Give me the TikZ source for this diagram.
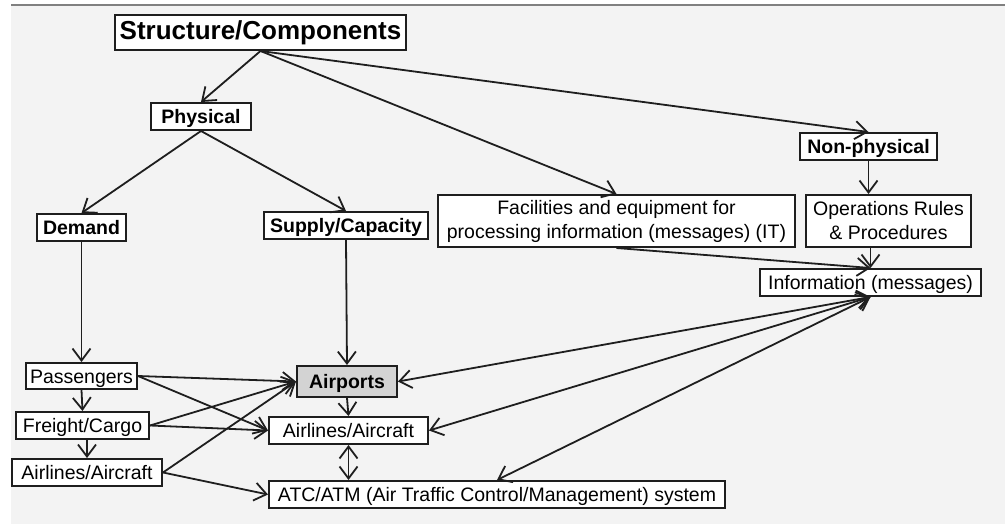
\documentclass[tikz,border=0pt]{standalone}
\usepackage{fontspec}
\setmainfont{Liberation Sans}
\usetikzlibrary{arrows.meta}
\definecolor{panelgray}{HTML}{F3F3F3}
\definecolor{rulegray}{HTML}{808080}
\definecolor{boxline}{HTML}{1E1E1E}
\definecolor{airportgray}{HTML}{D3D3D3}

\begin{document}
\begin{tikzpicture}
[
    x=1pt, y=-1pt,
    >={Straight Barb[length=12pt,width=18pt]},
    link/.style={draw=boxline, line width=1.8pt, ->},
    twoway/.style={draw=boxline, line width=1.8pt, <->},
    every node/.style={draw=boxline, line width=2pt, fill=white, inner sep=0pt, minimum height=27pt, text height=16pt, text depth=2pt, align=center, font=\fontsize{19.5}{24}\selectfont},
    twoline/.style={text height={}, text depth={}, minimum height=52pt},
    head/.style={font=\fontsize{19.5}{24}\selectfont\bfseries},
    title/.style={font=\fontsize{26}{30}\selectfont\bfseries, text height=19pt, text depth=5pt}
  ]

  \useasboundingbox (0,0) rectangle (1005,524);
  \fill[panelgray] (11,6) rectangle (1005,524);
  \draw[rulegray, line width=2pt] (11,5) -- (1005,5);

  \node[title, minimum width=291pt, minimum height=35pt] (struct) at (260.5,32.5) {Structure/Components};
  \node[head, minimum width=100pt] (phys) at (201,116.5) {Physical};
  \node[head, minimum width=89pt] (demand) at (81.5,227.5) {Demand};
  \node[head, minimum width=164pt] (supply) at (346,225.5) {Supply/Capacity};
  \node[twoline, minimum width=357pt] (fac) at (616.5,221) {Facilities and equipment for\\processing information (messages) (IT)};
  \node[head, minimum width=137pt] (nonphys) at (868.5,146.5) {Non-physical};
  \node[twoline, minimum width=165pt] (ops) at (888.5,221) {Operations Rules\\\& Procedures};
  \node[minimum width=221pt] (info) at (870.5,282.5) {Information (messages)};

  \node[minimum width=111pt, minimum height=26pt] (pass) at (81.5,376) {Passengers};
  \node[minimum width=133pt] (freight) at (82.5,425.5) {Freight/Cargo};
  \node[minimum width=150pt] (alleft) at (87,472.5) {Airlines/Aircraft};
  \node[head, fill=airportgray, minimum width=100pt, minimum height=31pt] (airports) at (347,381.5) {Airports};
  \node[minimum width=159pt] (alc) at (348.5,430.5) {Airlines/Aircraft};
  \node[minimum width=456pt] (atc) at (497,494.5) {ATC/ATM (Air Traffic Control/Management) system};

  \draw[link] (struct.south) -- (phys.north);
  \draw[link] (struct.south) -- (fac.north);
  \draw[link] (struct.south) -- (nonphys.north);
  \draw[link] (phys.south) -- (demand.north);
  \draw[link] (phys.south) -- (supply.north);
  \draw[link] (demand.south) -- (pass.north);
  \draw[link] (supply.south) -- (airports.north);
  \draw[link] (nonphys.south) -- (nonphys.south |- ops.north);
  \draw[link] (info.north |- ops.south) -- (info.north);
  \draw[link] (fac.south) -- (info.north);

  \draw[twoway] (airports.east) -- (info.south);
  \draw[twoway] (alc.east) -- (info.south);
  \draw[twoway] (atc.north) -- (info.south);

  \draw[link] (pass.east) -- (airports.west);
  \draw[link] (pass.east) -- (alc.west);
  \draw[link] (pass.south) -- (freight.north);
  \draw[link] (freight.east) -- (airports.west);
  \draw[link] (freight.east) -- (alc.west);
  \draw[link] (alleft.north |- freight.south) -- (alleft.north);
  \draw[link] (alleft.east) -- (airports.west);
  \draw[link] (alleft.east) -- (atc.west);
  \draw[link] (airports.south) -- (alc.north);
  \draw[twoway] (alc.south) -- (alc.south |- atc.north);
\end{tikzpicture}
\end{document}
